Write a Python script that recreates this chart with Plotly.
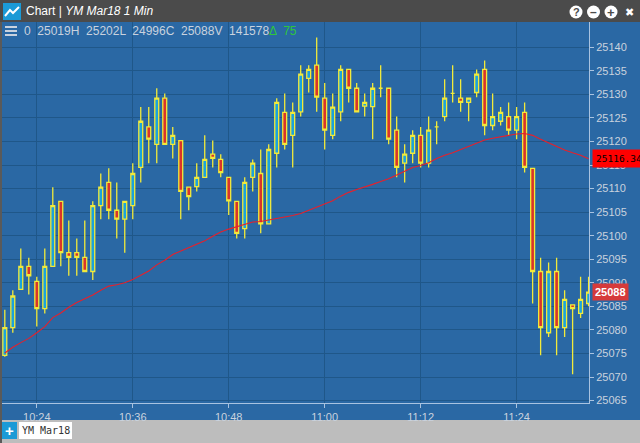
import pandas as pd
import plotly.graph_objects as go

# one-minute bars, YM Mar18, 10:20 .. 11:33
start_time = '2018-02-26 10:20'
opens = [25074.6, 25080.5, 25088.6, 25093.5, 25090.3, 25084.5, 25093.5, 25107.3, 25096.4, 25096.4,
         25095.4, 25092.4, 25106.4, 25111.3, 25105.4, 25103.5, 25106.4, 25114.5, 25123.1, 25119.4,
         25129.2, 25119.4, 25120.2, 25110.3, 25110.4, 25112.4, 25117.3, 25116.2, 25112.4, 25107.3,
         25101.5, 25112.4, 25113.2, 25102.5, 25117.5, 25126.2, 25121.3, 25126.3, 25133.4, 25136.2,
         25129.2, 25121.3, 25126.3, 25135.3, 25131.3, 25127.5, 25127.4, 25131.3, 25131.3, 25122.4,
         25115.4, 25117.5, 25121.3, 25115.4, 25123.1, 25125.3, 25130.2, 25129.2, 25128.3, 25130.4,
         25135.3, 25123.4, 25124.3, 25125.3, 25122.4, 25126.2, 25114.3, 25092.4, 25079.4, 25092.4,
         25080.5, 25085.3, 25083.5, 25085.6]
highs = [25084.3, 25088.4, 25097.3, 25095.3, 25091.3, 25097.3, 25110.3, 25107.3, 25103.2, 25099.4,
         25103.2, 25107.3, 25113.2, 25114.3, 25111.3, 25107.3, 25115.4, 25127.3, 25127.3, 25131.3,
         25130.2, 25123.1, 25120.2, 25110.3, 25115.4, 25121.3, 25120.2, 25117.3, 25112.4, 25107.3,
         25112.4, 25116.2, 25118.3, 25119.4, 25129.2, 25130.2, 25128.3, 25136.2, 25136.2, 25142.1,
         25132.4, 25130.2, 25136.2, 25135.3, 25132.4, 25130.2, 25132.4, 25136.2, 25131.3, 25125.3,
         25119.4, 25122.4, 25123.1, 25125.3, 25124.3, 25133.2, 25136.2, 25133.2, 25129.2, 25135.3,
         25137.2, 25130.2, 25127.3, 25128.3, 25127.3, 25128.3, 25114.3, 25095.3, 25094.3, 25095.3,
         25088.4, 25085.3, 25091.3, 25091.3]
lows = [25074.3, 25079.4, 25088.5, 25087.5, 25080.7, 25083.5, 25093.5, 25093.5, 25091.5, 25091.5,
        25092.4, 25090.6, 25103.5, 25103.5, 25099.4, 25096.4, 25103.5, 25111.3, 25115.4, 25115.4,
        25119.4, 25116.4, 25103.5, 25105.4, 25109.4, 25112.4, 25114.5, 25112.4, 25104.4, 25099.4,
        25099.4, 25109.4, 25100.5, 25102.5, 25114.5, 25118.3, 25114.5, 25125.3, 25130.4, 25126.3,
        25118.3, 25120.5, 25124.3, 25128.3, 25126.3, 25125.3, 25120.5, 25129.4, 25119.4, 25112.4,
        25111.3, 25115.4, 25114.5, 25114.5, 25119.4, 25124.3, 25128.3, 25126.3, 25124.3, 25129.4,
        25121.3, 25122.4, 25123.4, 25121.3, 25120.5, 25113.4, 25085.6, 25074.6, 25078.5, 25074.6,
        25078.5, 25070.6, 25082.5, 25085.0]
closes = [25080.5, 25087.2, 25093.5, 25091.5, 25084.5, 25093.5, 25106.4, 25096.4, 25095.4, 25095.4,
          25092.4, 25106.4, 25110.3, 25105.4, 25103.5, 25107.3, 25113.2, 25124.3, 25120.5, 25129.2,
          25119.4, 25121.3, 25109.4, 25108.3, 25112.4, 25116.2, 25116.4, 25113.4, 25107.4, 25100.5,
          25111.3, 25115.4, 25102.5, 25118.3, 25128.3, 25119.4, 25126.2, 25134.3, 25135.3, 25129.4,
          25122.4, 25127.3, 25135.3, 25131.3, 25126.3, 25128.3, 25131.3, 25131.3, 25120.5, 25114.5,
          25117.3, 25121.3, 25115.4, 25122.4, 25123.1, 25129.2, 25130.2, 25128.3, 25129.2, 25134.3,
          25123.4, 25125.3, 25126.2, 25122.4, 25125.3, 25114.5, 25092.4, 25080.5, 25092.4, 25080.5,
          25086.5, 25084.5, 25086.5, 25088.0]
ma_values = [25075.1, 25076.3, 25077.3, 25078.2, 25079.4, 25080.7, 25082.6, 25083.6, 25084.8, 25085.8,
             25086.6, 25087.4, 25088.4, 25089.3, 25089.6, 25090.0, 25090.7, 25091.6, 25092.5, 25093.8,
             25094.8, 25096.0, 25096.7, 25097.5, 25098.2, 25098.9, 25099.9, 25100.8, 25101.4, 25101.9,
             25102.3, 25102.9, 25103.0, 25103.3, 25103.6, 25104.0, 25104.3, 25104.7, 25105.4, 25106.0,
             25106.7, 25107.4, 25108.4, 25109.2, 25109.8, 25110.3, 25110.9, 25111.5, 25112.1, 25112.9,
             25113.7, 25114.5, 25114.9, 25115.5, 25116.4, 25117.1, 25117.6, 25118.3, 25119.0, 25119.7,
             25120.3, 25120.7, 25121.0, 25121.3, 25121.6, 25121.7, 25121.3, 25120.5, 25119.7, 25118.9,
             25118.2, 25117.6, 25117.1, 25116.34]
y_ticks = [25065, 25070, 25075, 25080, 25085, 25090, 25095, 25100, 25105, 25110,
           25115, 25120, 25125, 25130, 25135, 25140]

times = pd.date_range(start_time, periods=len(closes), freq='1min')

BLUE = '#2a68a4'
GRID = '#1f5789'
YELLOW = '#f2ea3a'
TXT = '#c9d2de'

fig = go.Figure()
fig.add_trace(go.Candlestick(
    x=times, open=opens, high=highs, low=lows, close=closes,
    increasing=dict(fillcolor='#1ba3dc', line=dict(color=YELLOW, width=1.3)),
    decreasing=dict(fillcolor='#d9342b', line=dict(color=YELLOW, width=1.3)),
    whiskerwidth=0, showlegend=False, hoverinfo='skip'))
fig.add_trace(go.Scatter(x=times, y=ma_values, mode='lines',
                         line=dict(color='#e8202a', width=1.1),
                         showlegend=False, hoverinfo='skip'))

W, H = 640, 443
x0, x1 = 2 / W, 589 / W
y0, y1 = (H - 403) / H, (H - 22) / H


def px(x):
    return x / W


def py(y):
    return (H - y) / H


shapes = [
    # title bar
    dict(type='rect', xref='paper', yref='paper', x0=0, x1=1, y0=y1, y1=1,
         fillcolor='#4b4b4b', line_width=0, layer='below'),
    # bottom tab bar
    dict(type='rect', xref='paper', yref='paper', x0=0, x1=1, y0=0, y1=py(420),
         fillcolor='#bdbdbd', line_width=0, layer='below'),
    dict(type='rect', xref='paper', yref='paper', x0=0, x1=px(2), y0=0, y1=y1,
         fillcolor='#5a5a5a', line_width=0),
    # title icon
    dict(type='rect', xref='paper', yref='paper', x0=px(3), x1=px(21),
         y0=py(20), y1=py(3), fillcolor='#1b9ad6', line_width=0),
    dict(type='path', xref='paper', yref='paper',
         path=f'M {px(5)},{py(16)} L {px(10)},{py(10)} L {px(13)},{py(13)} L {px(19)},{py(7)}',
         line=dict(color='white', width=2)),
    # plus button / tab
    dict(type='rect', xref='paper', yref='paper', x0=px(2), x1=px(17),
         y0=py(439), y1=py(422), fillcolor='#1b9ad6', line_width=0),
    dict(type='rect', xref='paper', yref='paper', x0=px(19), x1=px(72),
         y0=py(439), y1=py(422), fillcolor='white', line_width=0),
]
# hamburger
for k in range(3):
    shapes.append(dict(type='line', xref='paper', yref='paper', x0=px(5), x1=px(17),
                       y0=py(27 + 4 * k), y1=py(27 + 4 * k), line=dict(color=TXT, width=2)))
# window buttons
for cx in (576, 593.5, 611):
    shapes.append(dict(type='circle', xref='paper', yref='paper',
                       x0=px(cx - 6.5), x1=px(cx + 6.5),
                       y0=py(18.5), y1=py(5.5), fillcolor='white', line_width=0))


def note(x, y, text, size, color, family='Liberation Sans, Arial', **kw):
    d = dict(x=px(x), y=py(y), xref='paper', yref='paper', text=text, showarrow=False,
             xanchor='center', yanchor='middle',
             font=dict(family=family, size=size, color=color))
    d.update(kw)
    return d


annotations = [
    note(24, 11, 'Chart | <i>YM Mar18 1 Min</i>', 12, 'white', xanchor='left'),
    note(22, 31, '0  25019H  25202L  24996C  25088V  141578<span style="color:#2fc63a">\u0394  75</span>',
         12, TXT, xanchor='left'),
    note(576, 12, '<b>?</b>', 11, '#4b4b4b'),
    note(593.5, 12, '<b>\u2013</b>', 12, '#4b4b4b'),
    note(611, 12, '<b>+</b>', 13, '#4b4b4b'),
    note(629.5, 12, '<b>\u2716</b>', 11, 'white', family='DejaVu Sans'),
    note(9.5, 430.5, '<b>+</b>', 15, 'white'),
    note(45.5, 430.5, 'YM Mar18', 10, '#333333', family='DejaVu Sans Mono'),
    # last value labels
    dict(x=px(592), y=ma_values[-1], xref='paper', yref='y', xanchor='left', yanchor='middle',
         text=f'{ma_values[-1]:.2f}', showarrow=False, bgcolor='#ff0000', borderpad=3,
         font=dict(family='DejaVu Sans Mono', size=9.5, color='black')),
    dict(x=px(592), y=closes[-1], xref='paper', yref='y', xanchor='left', yanchor='middle',
         text=f'<b>{closes[-1]:.0f}</b>', showarrow=False, bgcolor='#d63a3a', borderpad=2,
         font=dict(family='Liberation Sans, Arial', size=11, color='white')),
]

fig.update_layout(
    width=W, height=H, margin=dict(l=0, r=0, t=0, b=0),
    paper_bgcolor=BLUE, plot_bgcolor=BLUE,
    boxgap=0.3,
    shapes=shapes, annotations=annotations,
    xaxis=dict(domain=[x0, x1], type='date',
               range=[pd.Timestamp('2018-02-26 10:19:39'), pd.Timestamp('2018-02-26 11:33:03')],
               tick0='2018-02-26 10:24', dtick=12 * 60 * 1000, tickformat='%H:%M',
               showgrid=True, gridcolor=GRID, gridwidth=1,
               showline=True, linecolor='#a9c3e0', linewidth=1, mirror=False,
               ticks='outside', ticklen=4, tickcolor='#a9c3e0',
               tickfont=dict(family='Liberation Sans, Arial', size=11, color=TXT),
               rangeslider=dict(visible=False), zeroline=False, automargin=False, fixedrange=True),
    yaxis=dict(domain=[y0, y1], side='right', range=[25064.48, 25145.37],
               tickvals=y_ticks, ticktext=[str(v) for v in y_ticks],
               showgrid=True, gridcolor=GRID, gridwidth=1,
               showline=True, linecolor='#a9c3e0', linewidth=1,
               ticks='outside', ticklen=4, tickcolor='#a9c3e0',
               tickfont=dict(family='Liberation Sans, Arial', size=11, color=TXT),
               zeroline=False, automargin=False, fixedrange=True),
)

fig.write_html("out.html", config={'displayModeBar': False},
               post_script="document.body.style.margin='0';document.body.style.overflow='hidden';")
